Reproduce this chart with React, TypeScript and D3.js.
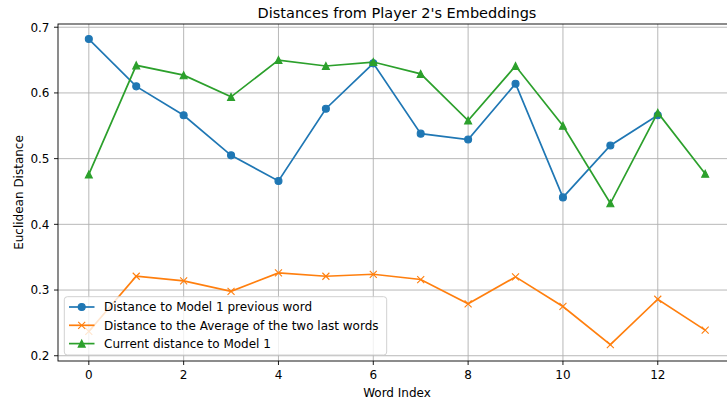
import React from "react";
import * as d3 from "d3";

const prevWordDist = [0.682, 0.61, 0.566, 0.505, 0.466, 0.576, 0.645, 0.538, 0.529, 0.614, 0.441, 0.52, 0.566];
const avgTwoLastDist = [0.237, 0.321, 0.314, 0.298, 0.326, 0.321, 0.324, 0.316, 0.279, 0.32, 0.275, 0.217, 0.286, 0.239];
const currentDist = [0.476, 0.642, 0.627, 0.594, 0.65, 0.641, 0.647, 0.629, 0.558, 0.641, 0.55, 0.432, 0.57, 0.477];
const xTicks = [0, 2, 4, 6, 8, 10, 12];
const yTicks = [0.2, 0.3, 0.4, 0.5, 0.6, 0.7];
const seriesNames = [
  "Distance to Model 1 previous word",
  "Distance to the Average of the two last words",
  "Current distance to Model 1",
];

const W = 727;
const H = 402;
const margin = { top: 24, right: -9, bottom: 41, left: 58 };
const font = "'DejaVu Sans', sans-serif";

function Marker({ kind, x, y, color }: { kind: string; x: number; y: number; color: string }) {
  const s = 3.5;
  if (kind === "o") return <circle cx={x} cy={y} r={s} fill={color} stroke={color} strokeWidth={1.1} />;
  if (kind === "^")
    return (
      <path
        d={`M${x},${y - s}L${x - s},${y + s}L${x + s},${y + s}Z`}
        fill={color}
        stroke={color}
        strokeWidth={1.1}
        strokeLinejoin="miter"
      />
    );
  return (
    <path d={`M${x - s},${y - s}L${x + s},${y + s}M${x - s},${y + s}L${x + s},${y - s}`} stroke={color} strokeWidth={1.1} />
  );
}

export default function App() {
  const x0 = margin.left;
  const x1 = W - margin.right;
  const y0 = H - margin.bottom;
  const y1 = margin.top;
  const x = d3.scaleLinear().domain([-0.65, 13.65]).range([x0, x1]);
  const y = d3.scaleLinear().domain([0.192, 0.7049]).range([y0, y1]);

  const series = [
    { name: seriesNames[0], values: prevWordDist, color: "#1f77b4", marker: "o" },
    { name: seriesNames[1], values: avgTwoLastDist, color: "#ff7f0e", marker: "x" },
    { name: seriesNames[2], values: currentDist, color: "#2ca02c", marker: "^" },
  ];

  const line = d3
    .line<number>()
    .x((_, i) => x(i))
    .y(d => y(d));

  return (
    <svg width={W} height={H} style={{ position: "absolute", left: 0, top: 0, background: "#fff" }} fontFamily={font}>
      <defs>
        <clipPath id="plot">
          <rect x={x0} y={y1} width={x1 - x0} height={y0 - y1} />
        </clipPath>
      </defs>
      <g clipPath="url(#plot)">
        {xTicks.map(t => (
          <line key={t} x1={x(t)} x2={x(t)} y1={y1} y2={y0} stroke="#b0b0b0" strokeWidth={0.9} />
        ))}
        {yTicks.map(t => (
          <line key={t} x1={x0} x2={x1} y1={y(t)} y2={y(t)} stroke="#b0b0b0" strokeWidth={0.9} />
        ))}
        {series.map(s => (
          <g key={s.name}>
            <path d={line(s.values) ?? ""} fill="none" stroke={s.color} strokeWidth={1.7} />
            {s.values.map((v, i) => (
              <Marker key={i} kind={s.marker} x={x(i)} y={y(v)} color={s.color} />
            ))}
          </g>
        ))}
      </g>
      <rect x={x0} y={y1} width={x1 - x0} height={y0 - y1} fill="none" stroke="#000" strokeWidth={0.9} />
      {xTicks.map(t => (
        <g key={t}>
          <line x1={x(t)} x2={x(t)} y1={y0} y2={y0 + 4} stroke="#000" strokeWidth={0.9} />
          <text x={x(t)} y={y0 + 17.5} textAnchor="middle" fontSize={12} fill="#000">
            {t}
          </text>
        </g>
      ))}
      {yTicks.map(t => (
        <g key={t}>
          <line x1={x0 - 4} x2={x0} y1={y(t)} y2={y(t)} stroke="#000" strokeWidth={0.9} />
          <text x={x0 - 8.5} y={y(t)} dy="0.36em" textAnchor="end" fontSize={12} fill="#000">
            {t.toFixed(1)}
          </text>
        </g>
      ))}
      <text x={(x0 + x1) / 2} y={17.5} textAnchor="middle" fontSize={14.5} fill="#000">
        Distances from Player 2's Embeddings
      </text>
      <text x={(x0 + x1) / 2} y={396.5} textAnchor="middle" fontSize={12} fill="#000">
        Word Index
      </text>
      <text transform={`translate(23,${(y0 + y1) / 2}) rotate(-90)`} textAnchor="middle" fontSize={12} fill="#000">
        Euclidean Distance
      </text>
      <g>
        <rect x={64.3} y={296.7} width={322.4} height={58.3} rx={3} fill="#fff" fillOpacity={0.8} stroke="#cccccc" strokeWidth={0.9} />
        {series.map((s, i) => {
          const ly = 307 + i * 18.3;
          return (
            <g key={s.name}>
              <line x1={69} x2={94.5} y1={ly} y2={ly} stroke={s.color} strokeWidth={1.7} />
              <Marker kind={s.marker} x={81.7} y={ly} color={s.color} />
              <text x={104} y={ly} dy="0.36em" fontSize={12} fill="#000">
                {s.name}
              </text>
            </g>
          );
        })}
      </g>
    </svg>
  );
}
